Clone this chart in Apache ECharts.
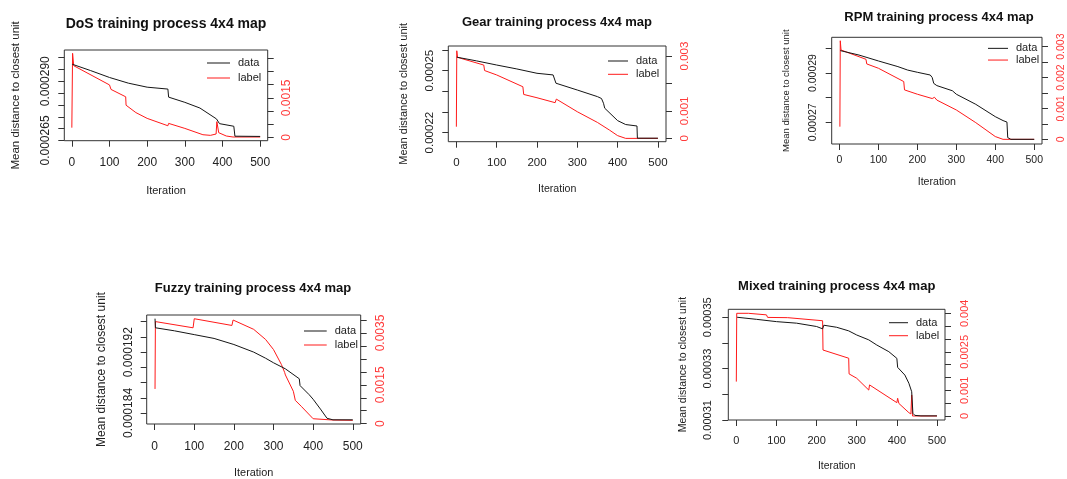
<!DOCTYPE html>
<html>
<head>
<meta charset="utf-8">
<script src="https://cdn.jsdelivr.net/npm/echarts@6/dist/echarts.min.js"></script>
<style>
  html, body { margin: 0; padding: 0; background: #ffffff; }
  #chart { width: 1067px; height: 479px; }
</style>
</head>
<body>
<div id="chart"></div>
<script>
// Iteration axis ticks shared by every panel
const iterationTicks = [0, 100, 200, 300, 400, 500];

// ---- DoS ----
const dosData = [[1, 0.0002972], [50, 0.0002945], [100, 0.0002916], [150, 0.0002892], [200, 0.0002875],
  [255, 0.0002867], [257, 0.0002833], [300, 0.0002811], [340, 0.0002787], [384, 0.0002741],
  [392, 0.0002721], [430, 0.000271], [433, 0.0002668], [500, 0.0002667]];
const dosLabel = [[0, 0.000367], [2, 0.00319], [5, 0.00272], [100, 0.00199], [104, 0.00182],
  [143, 0.00154], [144, 0.00122], [170, 0.00094], [200, 0.00072], [255, 0.00044], [257, 0.00053],
  [300, 0.00034], [348, 0.0001], [368, 0.000076], [370, 0.000127], [383, 0.000127], [385, 0.000595],
  [390, 0.000177], [410, 0.000051], [428, 0.000013], [500, 0.000013]];
const dosLeftTicks = [0.000265, 0.00027, 0.000275, 0.00028, 0.000285, 0.00029, 0.000295, 0.0003];
const dosLeftLabels = [0.000265, 0.00029];
const dosRightTicks = [0, 0.0005, 0.001, 0.0015, 0.002, 0.0025, 0.003];
const dosRightLabels = [0, 0.0015];

// ---- Gear ----
const gearData = [[1, 0.0002565], [50, 0.0002547], [100, 0.0002527], [150, 0.0002508], [200, 0.0002487],
  [240, 0.0002479], [243, 0.0002474], [247, 0.0002439], [250, 0.0002434], [300, 0.0002406],
  [350, 0.0002374], [360, 0.0002365], [365, 0.0002342], [368, 0.0002318], [400, 0.0002258],
  [420, 0.0002239], [448, 0.0002232], [449, 0.0002173], [500, 0.0002173]];
const gearLabel = [[0, 0.000425], [1, 0.00319], [3, 0.00295], [68, 0.00267], [70, 0.00247],
  [100, 0.00231], [165, 0.00188], [167, 0.0016], [200, 0.00148], [245, 0.0013], [248, 0.00143],
  [250, 0.00136], [300, 0.00097], [350, 0.00058], [380, 0.0003], [400, 0.0001], [420, 0], [500, 0]];
const gearLeftTicks = [0.00022, 0.00023, 0.00024, 0.00025, 0.00026];
const gearLeftLabels = [0.00022, 0.00025];
const gearRightTicks = [0, 0.001, 0.002, 0.003];
const gearRightLabels = [0, 0.001, 0.003];

// ---- RPM ----
const rpmData = [[2, 0.0002991], [50, 0.0002973], [100, 0.0002949], [150, 0.0002926], [175, 0.0002912],
  [200, 0.0002903], [233, 0.0002892], [238, 0.0002882], [242, 0.0002858], [250, 0.0002849],
  [290, 0.0002828], [300, 0.0002814], [350, 0.0002773], [400, 0.0002723], [420, 0.0002707],
  [430, 0.0002701], [432, 0.0002638], [440, 0.0002631], [500, 0.0002631]];
const rpmLabel = [[1, 0.00041], [2, 0.00319], [4, 0.00289], [68, 0.00259], [70, 0.00244],
  [100, 0.0023], [165, 0.00187], [167, 0.0016], [200, 0.00146], [238, 0.00132], [240, 0.00127],
  [244, 0.00136], [250, 0.00127], [300, 0.00095], [350, 0.00054], [400, 0.00009], [420, 0], [500, 0]];
const rpmLeftTicks = [0.00027, 0.00028, 0.00029, 0.0003];
const rpmLeftLabels = [0.00027, 0.00029];
const rpmRightTicks = [0, 0.0005, 0.001, 0.0015, 0.002, 0.0025, 0.003];
const rpmRightLabels = [0, 0.001, 0.002, 0.003];

// ---- Fuzzy ----
const fuzzyData = [[1, 0.0001964], [2, 0.0001952], [50, 0.0001948], [100, 0.0001943], [150, 0.0001938],
  [200, 0.000193], [250, 0.000192], [280, 0.0001912], [300, 0.0001906], [330, 0.0001898],
  [365, 0.0001885], [367, 0.0001876], [390, 0.0001864], [400, 0.0001858], [420, 0.0001844],
  [435, 0.0001833], [450, 0.0001831], [500, 0.0001831]];
const fuzzyLabel = [[1, 0.00134], [2, 0.00394], [3, 0.00392], [97, 0.0037], [100, 0.00405],
  [195, 0.00379], [198, 0.004], [200, 0.00396], [250, 0.00364], [280, 0.00325], [300, 0.00286],
  [320, 0.00228], [328, 0.00198], [330, 0.00188], [332, 0.00194], [350, 0.00125], [355, 0.0009],
  [370, 0.00067], [400, 0.00019], [450, 0.00014], [500, 0.00013]];
const fuzzyLeftTicks = [0.000184, 0.000186, 0.000188, 0.00019, 0.000192, 0.000194, 0.000196];
const fuzzyLeftLabels = [0.000184, 0.000192];
const fuzzyRightTicks = [0, 0.0005, 0.001, 0.0015, 0.002, 0.0025, 0.003, 0.0035, 0.004];
const fuzzyRightLabels = [0, 0.0015, 0.0035];

// ---- Mixed ----
const mixedData = [[2, 0.00035], [50, 0.0003492], [100, 0.0003483], [150, 0.0003477], [200, 0.0003464],
  [215, 0.0003455], [218, 0.0003469], [250, 0.0003461], [280, 0.0003447], [282, 0.000344],
  [300, 0.0003431], [330, 0.0003412], [350, 0.0003392], [380, 0.0003366], [400, 0.000334],
  [402, 0.0003305], [420, 0.0003275], [430, 0.0003243], [437, 0.000321], [440, 0.0003126],
  [445, 0.0003118], [460, 0.0003116], [500, 0.0003116]];
const mixedLabel = [[0, 0.00134], [1, 0.004], [30, 0.004], [75, 0.00394], [78, 0.00384],
  [128, 0.00383], [130, 0.00387], [132, 0.0038], [215, 0.00371], [216, 0.00257], [220, 0.00255],
  [280, 0.00225], [281, 0.00164], [300, 0.00147], [330, 0.00101], [332, 0.00121], [400, 0.00052],
  [402, 0.00069], [405, 0.00049], [430, 0.00013], [435, 0.00008], [437, 0.00082], [439, 0], [500, 0]];
const mixedLeftTicks = [0.00031, 0.00032, 0.00033, 0.00034, 0.00035];
const mixedLeftLabels = [0.00031, 0.00033, 0.00035];
const mixedRightTicks = [0, 0.0005, 0.001, 0.0015, 0.002, 0.0025, 0.003, 0.0035, 0.004];
const mixedRightLabels = [0, 0.001, 0.0025, 0.004];

const panels = [
  { title: 'DoS training process 4x4 map', data: dosData, label: dosLabel,
    left: { min: 0.0002649, max: 0.0003032, ticks: dosLeftTicks, labels: dosLeftLabels, digits: 6 },
    right: { min: -0.000127, max: 0.003316, ticks: dosRightTicks, labels: dosRightLabels },
    box: [64.3, 50, 203.4, 90.7], head: [166, 23, 14], tick: 12, yName: 11.5, xName: 11,
    yMargin: 13, rMargin: 13, yNameGap: 42.5, xMargin: 16, xNameGap: 45, legend: [207, 56.5, 23, 2, 13] },
  { title: 'Gear training process 4x4 map', data: gearData, label: gearLabel,
    left: { min: 0.0002156, max: 0.0002619, ticks: gearLeftTicks, labels: gearLeftLabels, digits: 5 },
    right: { min: -0.000121, max: 0.003364, ticks: gearRightTicks, labels: gearRightLabels },
    box: [448.3, 46, 217.7, 95.7], head: [557, 21.7, 13], tick: 11.5, yName: 11, xName: 10.6,
    yMargin: 12.5, rMargin: 13, yNameGap: 39, xMargin: 15.5, xNameGap: 41.5, legend: [608, 54.5, 20, 0.3, 13] },
  { title: 'RPM training process 4x4 map', data: rpmData, label: rpmLabel,
    left: { min: 0.0002612, max: 0.0003045, ticks: rpmLeftTicks, labels: rpmLeftLabels, digits: 5 },
    right: { min: -0.000151, max: 0.003302, ticks: rpmRightTicks, labels: rpmRightLabels },
    box: [831.7, 37.3, 214.3, 106.7], head: [939, 16, 13], tick: 10.5, yName: 9.5, xName: 10.6,
    yMargin: 13.5, rMargin: 14, yNameGap: 40, xMargin: 11, xNameGap: 33, legend: [988, 42.5, 20, 0, 11.7] },
  { title: 'Fuzzy training process 4x4 map', data: fuzzyData, label: fuzzyLabel,
    left: { min: 0.00018255, max: 0.00019688, ticks: fuzzyLeftTicks, labels: fuzzyLeftLabels, digits: 6 },
    right: { min: -0.0000129, max: 0.004194, ticks: fuzzyRightTicks, labels: fuzzyRightLabels },
    box: [146.7, 315, 214, 109], head: [253, 287.3, 13], tick: 12, yName: 12, xName: 10.9,
    yMargin: 12.4, rMargin: 14, yNameGap: 39.5, xMargin: 16.4, xNameGap: 43, legend: [304, 324.5, 22.7, 1, 13] },
  { title: 'Mixed training process 4x4 map', data: mixedData, label: mixedLabel,
    left: { min: 0.00031, max: 0.0003531, ticks: mixedLeftTicks, labels: mixedLeftLabels, digits: 5 },
    right: { min: -0.000156, max: 0.004156, ticks: mixedRightTicks, labels: mixedRightLabels },
    box: [728.3, 309.3, 216.7, 110.7], head: [836.7, 285, 13], tick: 11, yName: 10.5, xName: 10.4,
    yMargin: 14.5, rMargin: 14.5, yNameGap: 40, xMargin: 15, xNameGap: 41, legend: [889, 316.2, 19, 0, 13] }
];

const FONT = '"Liberation Sans", Arial, Helvetica, sans-serif';
const INK = '#222222';
const RED = '#ff1a1a';
const RED_TEXT = '#ff3a3a';

const option = {
  animation: false,
  backgroundColor: '#ffffff',
  textStyle: { fontFamily: FONT },
  title: [], grid: [], xAxis: [], yAxis: [], legend: [], series: []
};

const plainNumber = v => (v === 0 ? '0' : String(parseFloat(Number(v).toPrecision(6))));

panels.forEach((p, i) => {
  const [bl, bt, bw, bh] = p.box;
  // title block centred on the panel; top offset puts the cap height mid-line at head[1]
  option.title.push({
    text: p.title, left: p.head[0], top: p.head[1] - p.head[2] * 0.6 + 2.5, textAlign: 'center', padding: 0,
    textStyle: { fontSize: p.head[2], fontWeight: 'bold', color: '#111', fontFamily: FONT }
  });
  option.grid.push({
    left: bl, top: bt, width: bw, height: bh, show: true,
    borderColor: '#333', borderWidth: 1, backgroundColor: 'transparent', containLabel: false
  });
  option.xAxis.push({
    type: 'value', gridIndex: i, min: -20, max: 520,
    name: 'Iteration', nameLocation: 'middle', nameGap: p.xNameGap,
    nameTextStyle: { fontSize: p.xName, color: INK, fontFamily: FONT },
    axisLine: { show: false, onZero: false },
    axisTick: { show: true, inside: false, length: 6, customValues: iterationTicks, lineStyle: { color: '#333' } },
    axisLabel: { customValues: iterationTicks, margin: p.xMargin, fontSize: p.tick, color: INK, fontFamily: FONT,
      formatter: v => String(Math.round(v)) },
    splitLine: { show: false }
  });
  option.yAxis.push({
    type: 'value', gridIndex: i, position: 'left', min: p.left.min, max: p.left.max,
    name: 'Mean distance to closest unit', nameLocation: 'middle', nameRotate: 90, nameGap: p.yNameGap,
    nameTextStyle: { fontSize: p.yName, color: INK, fontFamily: FONT },
    axisLine: { show: false, onZero: false },
    axisTick: { show: true, inside: false, length: 6, customValues: p.left.ticks, lineStyle: { color: '#333' } },
    axisLabel: { customValues: p.left.labels, rotate: 90, margin: p.yMargin, fontSize: p.tick, color: INK,
      fontFamily: FONT, formatter: (d => v => Number(v).toFixed(d))(p.left.digits) },
    splitLine: { show: false }
  });
  option.yAxis.push({
    type: 'value', gridIndex: i, position: 'right', min: p.right.min, max: p.right.max,
    axisLine: { show: false, onZero: false },
    axisTick: { show: true, inside: false, length: 6, customValues: p.right.ticks, lineStyle: { color: '#333' } },
    axisLabel: { customValues: p.right.labels, rotate: 90, margin: p.rMargin, fontSize: p.tick, color: RED_TEXT,
      fontFamily: FONT, formatter: plainNumber },
    splitLine: { show: false }
  });
  option.legend.push({
    data: ['data', 'label'], orient: 'vertical', left: p.legend[0], top: p.legend[1],
    itemWidth: p.legend[2], itemHeight: 1, itemGap: p.legend[3], icon: 'rect', selectedMode: false, padding: 0,
    textStyle: { fontSize: 11, color: INK, fontFamily: FONT, lineHeight: p.legend[4], padding: [0, 0, 0, 3] }
  });
  option.series.push({
    type: 'line', name: 'data', xAxisIndex: i, yAxisIndex: 2 * i, data: p.data,
    symbol: 'none', lineStyle: { color: '#151515', width: 1 }, itemStyle: { color: '#151515' }, z: 3
  });
  option.series.push({
    type: 'line', name: 'label', xAxisIndex: i, yAxisIndex: 2 * i + 1, data: p.label,
    symbol: 'none', lineStyle: { color: RED, width: 1 }, itemStyle: { color: RED }, z: 2
  });
});

const chart = echarts.init(document.getElementById('chart'), null, { renderer: 'canvas' });
chart.setOption(option);
</script>
</body>
</html>
